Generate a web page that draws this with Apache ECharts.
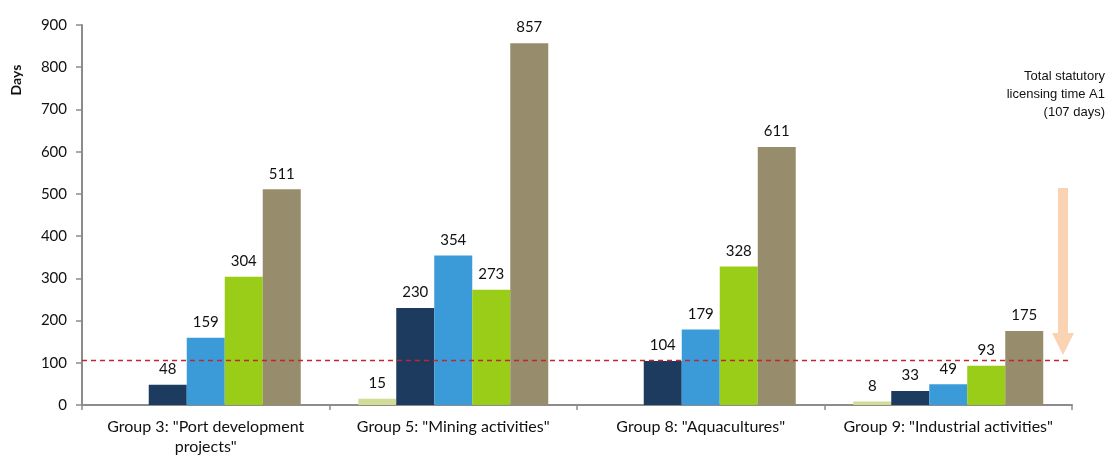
<!DOCTYPE html>
<html><head><meta charset="utf-8">
<script src="https://cdn.jsdelivr.net/npm/echarts@6/dist/echarts.min.js"></script>
<style>html,body{margin:0;padding:0;background:#fff}#c{width:1109px;height:457px}</style>
</head><body><div id="c"></div>
<script>
const categories = ['Group 3: "Port development\nprojects"', 'Group 5: "Mining activities"', 'Group 8: "Aquacultures"', 'Group 9: "Industrial activities"'];
const seriesA = [null, 15, null, 8];
const seriesB = [48, 230, 104, 33];
const seriesC = [159, 354, 179, 49];
const seriesD = [304, 273, 328, 93];
const seriesE = [511, 857, 611, 175];
const yTicks = [0, 100, 200, 300, 400, 500, 600, 700, 800, 900];
const statutoryDays = 107;
const colors = ['#d3dc96', '#1d3a5f', '#3b9bd8', '#99cd17', '#978c6b'];

const font = 'Lato, "Open Sans", sans-serif';
const chart = echarts.init(document.getElementById('c'));
function bar(name, data, color, withLine) {
  const s = {
    name, type: 'bar', data, barWidth: 38, barGap: '0%', barCategoryGap: '23%',
    itemStyle: { color },
    label: { show: true, position: 'top', distance: 8, color: '#111', fontSize: 15, fontFamily: font },
    animation: false
  };
  if (withLine) {
    s.markLine = {
      silent: true, symbol: 'none', label: { show: false },
      lineStyle: { color: '#c0272d', type: [5, 4], width: 1.3 },
      data: [{ yAxis: statutoryDays }]
    };
  }
  return s;
}
chart.setOption({
  animation: false,
  grid: { left: 82, right: 37, top: 25, bottom: 52 },
  xAxis: {
    type: 'category', data: categories,
    axisLine: { lineStyle: { color: '#8c8c8c', width: 2 } },
    axisTick: { show: true, length: 5, lineStyle: { color: '#8c8c8c', width: 1.5 } },
    axisLabel: { interval: 0, color: '#111', fontSize: 16, fontFamily: font, margin: 12, lineHeight: 20 }
  },
  yAxis: {
    type: 'value', min: yTicks[0], max: yTicks[yTicks.length - 1], interval: 100,
    axisLine: { show: true, lineStyle: { color: '#8c8c8c', width: 2 } },
    axisTick: { show: true, length: 6, lineStyle: { color: '#8c8c8c', width: 1.5 } },
    splitLine: { show: false },
    axisLabel: { color: '#111', fontSize: 15, fontFamily: font, margin: 15 }
  },
  series: [
    bar('A', seriesA, colors[0], true),
    bar('B', seriesB, colors[1]),
    bar('C', seriesC, colors[2]),
    bar('D', seriesD, colors[3]),
    bar('E', seriesE, colors[4])
  ],
  graphic: [
    { type: 'text', x: 16, y: 80, rotation: Math.PI / 2, style: { text: 'Days', fontSize: 14, fontWeight: 'bold', fontFamily: font, fill: '#111', align: 'center', verticalAlign: 'middle' } },
    { type: 'text', x: 1105, y: 67, style: { text: 'Total statutory\nlicensing time A1\n(107 days)', fontSize: 13, lineHeight: 18, fontFamily: '"Liberation Sans", Arial, sans-serif', fill: '#111', align: 'right' } },
    { type: 'polygon', shape: { points: [[1058, 188], [1068, 188], [1068, 333], [1074, 333], [1063, 355], [1052, 333], [1058, 333]] }, style: { fill: '#fad3b3' } }
  ]
});
</script></body></html>
